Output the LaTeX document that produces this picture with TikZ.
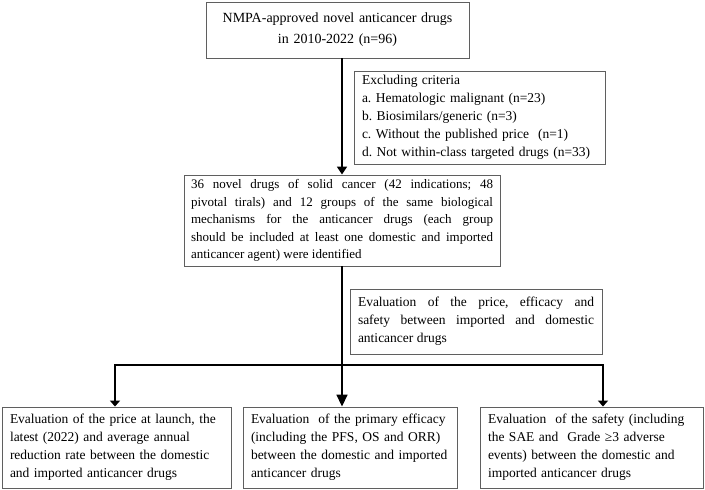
\documentclass[tikz,border=0pt]{standalone}
\usepackage{fontspec}
\setmainfont{Liberation Serif}
\usetikzlibrary{arrows.meta}
\definecolor{boxgray}{RGB}{95,95,95}
\frenchspacing
\begin{document}
\begin{tikzpicture}[x=1pt,y=-1pt,
  box/.style={draw=boxgray, line width=0.9pt, inner ysep=0pt, font=\fontsize{13.5}{18}\selectfont},
  conn/.style={line width=1.7pt, -{Triangle[width=10pt,length=8pt]}},
  flatconn/.style={line width=1.7pt, -{Triangle[width=10pt,length=6pt]}},
  bigconn/.style={line width=1.7pt, -{Triangle[width=11pt,length=12pt]}}]
\useasboundingbox (0,0) rectangle (705,490);
\node[box, font=\fontsize{14}{21}\selectfont, text width=257pt, inner xsep=3pt, minimum height=56pt, align=center] (top) at (337.5,30)
  {NMPA-approved novel anticancer drugs\\in 2010-2022 (n=96)};
\node[box, text width=235pt, inner xsep=8pt, minimum height=93pt, align=left] (excl) at (479.5,117.5)
  {Excluding criteria\\a. Hematologic malignant (n=23)\\b. Biosimilars/generic (n=3)\\c. Without the published price\ \ (n=1)\\d. Not within-class targeted drugs (n=33)};
\node[box, font=\fontsize{13}{17.5}\selectfont, text width=302pt, inner xsep=7pt, minimum height=91pt, align=justify] (mid) at (342,220.5)
  {36 novel drugs of solid cancer (42 indications; 48\linebreak pivotal tirals) and 12 groups of the same biological\linebreak mechanisms for the anticancer drugs (each group\linebreak should be included at least one domestic and imported\linebreak anticancer agent) were identified};
\node[box, text width=236pt, inner xsep=8pt, minimum height=65pt, align=justify] (eval) at (476,321.5)
  {Evaluation of the price, efficacy and\linebreak safety between imported and domestic\linebreak anticancer drugs};
\node[box, text width=213pt, inner xsep=8pt, minimum height=81pt, align=left] (b1) at (116.5,447.5)
  {Evaluation of the price at launch, the\\latest (2022) and average annual\\reduction rate between the domestic\\and imported anticancer drugs};
\node[box, text width=198pt, inner xsep=8pt, minimum height=81pt, align=left] (b2) at (350,447.5)
  {Evaluation\ \ of the primary efficacy\\(including the PFS, OS and ORR)\\between the domestic and imported\\anticancer drugs};
\node[box, text width=207pt, inner xsep=8pt, minimum height=81pt, align=left] (b3) at (591.5,447.5)
  {Evaluation\ \ of the safety (including\\the SAE and\ \ Grade ≥3 adverse\\events) between the domestic and\\imported anticancer drugs};
\coordinate (hl) at (115,365);
\coordinate (hm) at (342,365);
\coordinate (hr) at (603,365);
\draw[conn] (top.south -| mid.north) -- (mid.north);
\draw[bigconn] (mid.south) -- (mid.south |- b2.north);
\draw[flatconn] (hm) -- (hl) -- (hl |- b1.north);
\draw[flatconn] (hm) -- (hr) -- (hr |- b3.north);
\end{tikzpicture}
\end{document}
